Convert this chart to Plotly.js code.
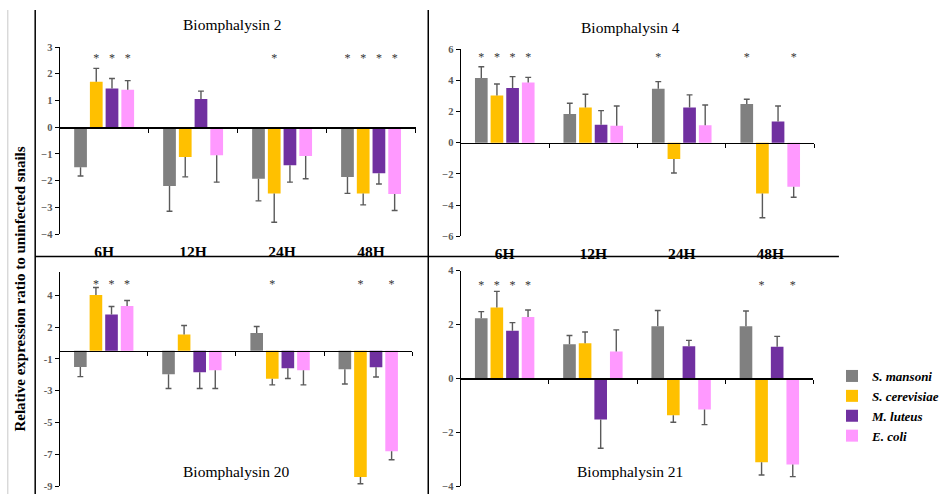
<!DOCTYPE html>
<html>
<head>
<meta charset="utf-8">
<script src="https://cdn.plot.ly/plotly-3.0.1.min.js"></script>
<style>html,body{margin:0;padding:0;background:#fff}#chart{width:944px;height:494px}</style>
</head>
<body>
<div id="chart"></div>
<script>
// ---------- DATA ----------
const timepoints = ['6H', '12H', '24H', '48H'];
const seriesNames = ['S. mansoni', 'S. cerevisiae', 'M. luteus', 'E. coli'];
const seriesColors = ['#808080', '#FFC000', '#7030A0', '#FF99FF'];

// rows: S. mansoni, S. cerevisiae, M. luteus, E. coli ; columns: 6H, 12H, 24H, 48H
const b2Means = [[-1.5, -2.2, -1.93, -1.87], [1.7, -1.12, -2.48, -2.48], [1.45, 1.05, -1.43, -1.73], [1.4, -1.05, -1.08, -2.5]];
const b2SD    = [[0.33, 0.95, 0.83, 0.61], [0.5, 0.74, 1.08, 0.43], [0.37, 0.3, 0.63, 0.4], [0.34, 1.01, 0.85, 0.62]];
const b2Sig   = [[0, 0, 0, 1], [1, 0, 1, 1], [1, 0, 0, 1], [1, 0, 0, 1]];

const b4Means = [[4.15, 1.83, 3.45, 2.48], [3.02, 2.25, -1.05, -3.25], [3.5, 1.15, 2.25, 1.35], [3.85, 1.08, 1.12, -2.83]];
const b4SD    = [[0.71, 0.69, 0.46, 0.3], [0.74, 0.85, 0.89, 1.56], [0.73, 0.9, 0.81, 1.0], [0.33, 1.27, 1.29, 0.67]];
const b4Sig   = [[1, 0, 1, 1], [1, 0, 0, 0], [1, 0, 0, 0], [1, 0, 0, 1]];

const b20Means = [[-1.01, -1.47, 1.13, -1.16], [3.51, 1.03, -1.76, -7.94], [2.29, -1.34, -1.09, -1.03], [2.82, -1.22, -1.22, -6.32]];
const b20SD    = [[0.61, 0.9, 0.4, 0.92], [0.48, 0.57, 0.38, 0.42], [0.5, 1.03, 0.65, 0.61], [0.35, 1.15, 0.92, 0.53]];
const b20Sig   = [[0, 0, 0, 0], [1, 0, 1, 1], [1, 0, 0, 0], [1, 0, 0, 1]];
const b20TickLabels = ['4', '2', '-1', '-3', '-5', '-7', '-9'];

const b21Means = [[2.23, 1.27, 1.94, 1.94], [2.63, 1.3, -1.37, -3.12], [1.77, -1.53, 1.19, 1.17], [2.28, 1.0, -1.16, -3.2]];
const b21SD    = [[0.25, 0.32, 0.58, 0.56], [0.6, 0.42, 0.26, 0.47], [0.3, 1.07, 0.22, 0.39], [0.26, 0.8, 0.56, 0.45]];
const b21Sig   = [[1, 0, 0, 0], [1, 0, 0, 1], [1, 0, 0, 0], [1, 0, 0, 1]];

const yTitle = 'Relative expression ratio to uninfected snails';

// ---------- LAYOUT CONFIG ----------
const W = 944, H = 494;
const fx = v => v / W;
const fy = v => 1 - v / H;
const BARGAP = 0.293, BARGROUPGAP = 0.19;
const SERIF = 'Liberation Serif, Times New Roman, serif';

const panels = [
  {title: 'Biomphalysin 2', means: b2Means, sd: b2SD, sig: b2Sig, xPx: [61, 425], yPx: [47, 234],
   range: [-4, 3], dtick: 1, starY: 2.55, showCats: true, titlePos: [238, 24]},
  {title: 'Biomphalysin 4', means: b4Means, sd: b4SD, sig: b4Sig, xPx: [471, 833], yPx: [49, 236.3],
   range: [-6, 6], dtick: 2, starY: 5.4, showCats: true, titlePos: [645, 27]},
  {title: 'Biomphalysin 20', means: b20Means, sd: b20SD, sig: b20Sig, xPx: [61, 421.7], yPx: [271.7, 486],
   range: [-8.5, 4.98], tickvals: [3.5, 1.5, -0.5, -2.5, -4.5, -6.5, -8.5], ticktext: b20TickLabels,
   starY: 4.15, showCats: false, titlePos: [242, 471]},
  {title: 'Biomphalysin 21', means: b21Means, sd: b21SD, sig: b21Sig, xPx: [471, 832], yPx: [270.7, 486],
   range: [-4, 4], dtick: 2, starY: 3.42, showCats: false, titlePos: [644, 471]}
];

const nS = seriesNames.length;
const slotOffset = s => -(1 - BARGAP) / 2 + (s + 0.5) * (1 - BARGAP) / nS;

const data = [];
const layout = {
  width: W, height: H,
  margin: {l: 0, r: 0, t: 0, b: 0},
  paper_bgcolor: '#ffffff', plot_bgcolor: 'rgba(0,0,0,0)',
  barmode: 'group', bargap: BARGAP, bargroupgap: BARGROUPGAP,
  showlegend: true,
  legend: {x: fx(851), y: fy(361), xanchor: 'left', yanchor: 'top', bgcolor: 'rgba(0,0,0,0)',
           font: {family: SERIF, size: 13, weight: 'bold', style: 'italic', color: '#000'},
           traceorder: 'normal', itemwidth: 30},
  annotations: [], shapes: []
};

panels.forEach((p, i) => {
  const k = i + 1;
  const xa = k === 1 ? 'x' : 'x' + k;
  const ya = k === 1 ? 'y' : 'y' + k;
  const xo = 'x' + (k + 4);
  const catPx = (p.xPx[1] - p.xPx[0]) / timepoints.length;
  const capHalf = 3 / catPx;

  // bars
  p.means.forEach((m, s) => {
    data.push({
      type: 'bar', x: timepoints, y: m, xaxis: xa, yaxis: ya,
      name: seriesNames[s], legendgroup: seriesNames[s], showlegend: i === 0,
      marker: {color: seriesColors[s], line: {width: 0}},
      hoverinfo: 'skip'
    });
  });

  // error bars (one-sided, away from zero), drawn as stems + caps
  const ex = [], ey = [];
  p.means.forEach((m, s) => {
    m.forEach((v, j) => {
      const xc = j + slotOffset(s);
      const end = v >= 0 ? v + p.sd[s][j] : v - p.sd[s][j];
      ex.push(xc, xc, null, xc - capHalf, xc + capHalf, null);
      ey.push(v, end, null, end, end, null);
    });
  });
  data.push({type: 'scatter', mode: 'lines', x: ex, y: ey, xaxis: xo, yaxis: ya,
             line: {color: '#5a5a5a', width: 1.4}, connectgaps: false, showlegend: false, hoverinfo: 'skip'});

  // significance stars
  const sx = [], sy = [];
  p.sig.forEach((row, s) => row.forEach((f, j) => { if (f) { sx.push(j + slotOffset(s)); sy.push(p.starY); } }));
  data.push({type: 'scatter', mode: 'text', x: sx, y: sy, text: sx.map(() => '*'), xaxis: xo, yaxis: ya,
             textposition: 'middle center', textfont: {family: SERIF, size: 12, color: '#333'},
             showlegend: false, hoverinfo: 'skip'});

  const xDom = [fx(p.xPx[0]), fx(p.xPx[1])];
  const yDom = [fy(p.yPx[1]), fy(p.yPx[0])];

  layout['xaxis' + (k === 1 ? '' : k)] = {
    domain: xDom, anchor: ya, type: 'category', range: [-0.5, timepoints.length - 0.5],
    showline: false, showgrid: false, zeroline: false, ticks: '',
    showticklabels: p.showCats, ticklabelstandoff: 6,
    tickfont: {family: SERIF, size: 15.5, weight: 'bold', color: '#000'}
  };
  const zeroFrac = (0 - p.range[0]) / (p.range[1] - p.range[0]);
  layout['xaxis' + (k + 4)] = {
    overlaying: xa, anchor: 'free', position: yDom[0] + zeroFrac * (yDom[1] - yDom[0]),
    type: 'linear', range: [-0.5, timepoints.length - 0.5],
    tickvals: timepoints.map((t, j) => j + 0.5), ticks: 'outside', ticklen: 4, tickwidth: 1, tickcolor: '#000',
    showticklabels: false, showline: true, linecolor: '#000', linewidth: 1.5,
    showgrid: false, zeroline: false, side: 'bottom'
  };
  const yax = {
    domain: yDom, anchor: xa, range: p.range,
    showline: true, linecolor: '#000', linewidth: 1, ticks: 'outside', ticklen: 4, tickcolor: '#000',
    showgrid: false, zeroline: false,
    tickfont: {family: SERIF, size: 10.5, weight: 'bold', color: '#595959'}
  };
  if (p.tickvals) { yax.tickmode = 'array'; yax.tickvals = p.tickvals; yax.ticktext = p.ticktext; }
  else { yax.tickmode = 'linear'; yax.tick0 = 0; yax.dtick = p.dtick; }
  layout['yaxis' + (k === 1 ? '' : k)] = yax;

  layout.annotations.push({text: p.title, xref: 'paper', yref: 'paper', x: fx(p.titlePos[0]), y: fy(p.titlePos[1]),
    xanchor: 'center', yanchor: 'middle', showarrow: false, font: {family: SERIF, size: 15.5, color: '#000'}});
});

layout.annotations.push({text: yTitle, xref: 'paper', yref: 'paper', x: fx(20), y: fy(289), textangle: -90,
  xanchor: 'center', yanchor: 'middle', showarrow: false, font: {family: SERIF, size: 15, weight: 'bold', color: '#000'}});

// frame lines
const frame = [
  {x0: 8, y0: 10, x1: 8, y1: 494, color: '#c8c8c8', w: 1},
  {x0: 36, y0: 10, x1: 36, y1: 494, color: '#000', w: 1.5},
  {x0: 438, y0: 10, x1: 438, y1: 494, color: '#000', w: 1.5},
  {x0: 36, y0: 256.5, x1: 858, y1: 256.5, color: '#000', w: 1.5}
];
frame.forEach(f => layout.shapes.push({type: 'line', xref: 'paper', yref: 'paper',
  x0: fx(f.x0), x1: fx(f.x1), y0: fy(f.y0), y1: fy(f.y1), line: {color: f.color, width: f.w}}));

Plotly.newPlot('chart', data, layout, {displayModeBar: false, staticPlot: true});
</script>
</body>
</html>
